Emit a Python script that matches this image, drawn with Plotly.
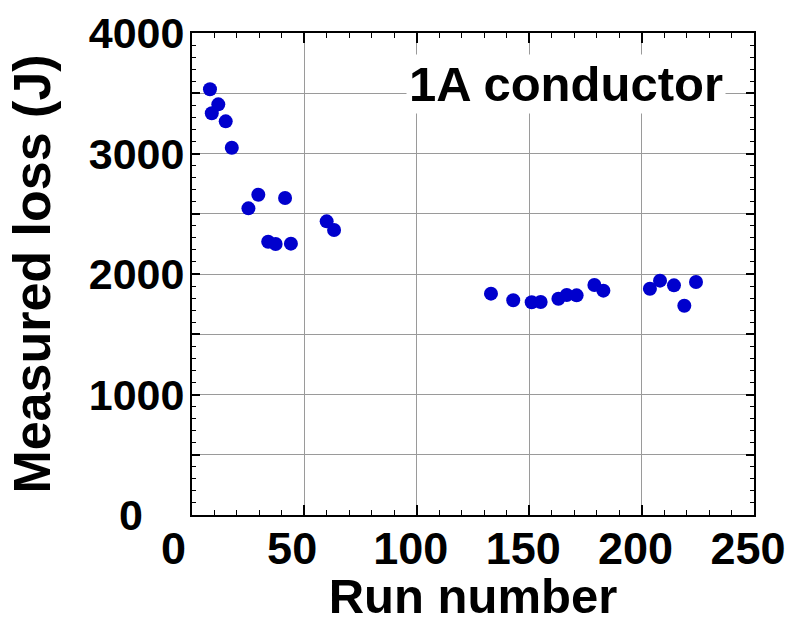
import plotly.graph_objects as go

run_number = [8.0, 8.8, 11.7, 15.0, 17.7, 25.1, 29.5, 33.9, 37.2, 41.4, 44.0, 59.9, 63.2,
              133.0, 142.9, 151.1, 155.1, 163.0, 166.7, 171.1, 179.0, 183.0,
              203.7, 208.2, 214.4, 219.0, 224.2]
measured_loss = [3533, 3334, 3408, 3267, 3048, 2545, 2658, 2268, 2249, 2631, 2252, 2437, 2365,
                 1837, 1782, 1765, 1768, 1795, 1826, 1823, 1909, 1862,
                 1878, 1945, 1906, 1737, 1934]

NB = "\u00a0"
x_tickvals = [0, 50, 100, 150, 200, 250]
x_ticktext = ["0" + NB * 2, "50" + NB, "100", "150", "200", "250"]
y_tickvals = [0, 500, 1000, 1500, 2000, 2500, 3000, 3500, 4000]
y_ticktext = ["", "", "1000", "", "2000", "", "3000", "", "4000"]
y_zero_label = "0"

FONT = "Liberation Sans, Arial, sans-serif"

fig = go.Figure()
fig.add_trace(go.Scatter(
    x=run_number, y=measured_loss, mode="markers",
    marker=dict(size=14, color="#0000cd", line=dict(width=0)),
    showlegend=False,
))

axis_common = dict(
    showline=True, linecolor="black", linewidth=2, mirror="ticks",
    ticks="inside", tickcolor="black", tickwidth=1.5,
    showgrid=True, gridcolor="#9a9a9a", gridwidth=1.3,
    zeroline=False, automargin=False, ticklabeloverflow="allow",
)

fig.update_xaxes(
    range=[0, 250], tickmode="array", tickvals=x_tickvals, ticktext=x_ticktext,
    ticklen=10, ticklabelstandoff=-7, ticklabelshift=-6,
    minor=dict(dtick=10, ticks="inside", ticklen=5, tickcolor="black", tickwidth=1.2, showgrid=False),
    tickfont=dict(family=FONT, size=45, color="black", weight="bold"),
    title=dict(text="Run number", font=dict(family=FONT, size=49, color="black", weight="bold"), standoff=4),
    **axis_common,
)
fig.update_yaxes(
    range=[0, 4000], tickmode="array", tickvals=y_tickvals, ticktext=y_ticktext,
    ticklen=8, ticklabelstandoff=-3,
    minor=dict(dtick=100, ticks="inside", ticklen=4, tickcolor="black", tickwidth=1.2, showgrid=False),
    tickfont=dict(family=FONT, size=43, color="black", weight="bold"),
    title=dict(text="Measured loss (J)", font=dict(family=FONT, size=52, color="black", weight="bold"), standoff=22),
    **axis_common,
)

# y-axis "0" label, set further left as in the original
fig.add_annotation(
    text=y_zero_label, xref="paper", yref="y", x=-0.1085, y=0,
    xanchor="center", yanchor="middle", showarrow=False,
    font=dict(family=FONT, size=43, color="black", weight="bold"),
)

fig.add_annotation(
    text="1A conductor", xref="paper", yref="paper", x=0.666, y=0.894,
    xanchor="center", yanchor="middle", showarrow=False,
    font=dict(family=FONT, size=49, color="black", weight="bold"),
    bgcolor="white", borderpad=2,
)

fig.update_layout(
    width=787, height=623,
    margin=dict(l=192, r=33, t=33, b=108),
    plot_bgcolor="white", paper_bgcolor="white",
)

fig.write_html("out.html", config={"displayModeBar": False},
               post_script="document.body.style.margin='0px';")
